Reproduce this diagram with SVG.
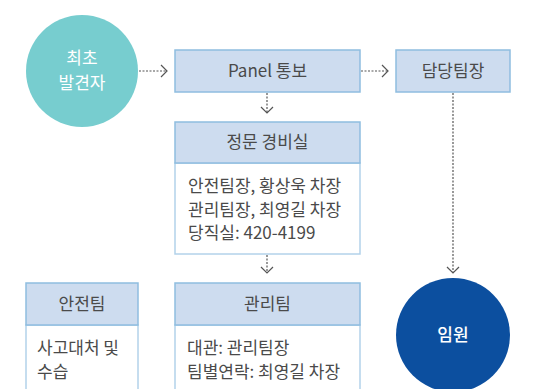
<svg xmlns="http://www.w3.org/2000/svg" width="546" height="389" viewBox="0 0 546 389">
<style>
text{font-family:"Noto Sans CJK KR","Noto Sans",sans-serif;font-size:17px;fill:#4a4a4a}
.c{text-anchor:middle}
.w{fill:#ffffff;font-size:17px}
.hd{fill:#cddcef;stroke:#8fbde0;stroke-width:1.5}
.bd{fill:#ffffff;stroke:#b3d2ea;stroke-width:1.5}
.ln{stroke:#555;stroke-width:1.2;stroke-dasharray:2 1.5;fill:none}
.ah{stroke:#555;stroke-width:1.2;fill:none}
</style>
<rect width="546" height="389" fill="#ffffff"/>
<g id="n-first">
<circle cx="82" cy="71" r="56" fill="#77cdcf"/>
<text class="c w" x="82" y="64">최초</text>
<text class="c w" x="82" y="89">발견자</text>
</g>
<g id="n-panel">
<rect class="hd" x="175" y="50" width="185" height="42"/>
<text class="c" x="267.5" y="77">Panel 통보</text>
</g>
<g id="n-manager">
<rect class="hd" x="396" y="50" width="114" height="42"/>
<text class="c" x="453" y="77">담당팀장</text>
</g>
<g id="n-gate">
<rect class="bd" x="175" y="163" width="185" height="91"/>
<rect class="hd" x="175" y="122" width="185" height="41"/>
<text class="c" x="267.5" y="148">정문 경비실</text>
<text x="188" y="192">안전팀장, 황상욱 차장</text>
<text x="188" y="216">관리팀장, 최영길 차장</text>
<text x="188" y="239">당직실: 420-4199</text>
</g>
<g id="n-safety">
<rect class="bd" x="26" y="325" width="112" height="70"/>
<rect class="hd" x="26" y="283" width="112" height="42"/>
<text class="c" x="82" y="310">안전팀</text>
<text x="37" y="354">사고대처 및</text>
<text x="37" y="378">수습</text>
</g>
<g id="n-admin">
<rect class="bd" x="175" y="325" width="185" height="70"/>
<rect class="hd" x="175" y="283" width="185" height="42"/>
<text class="c" x="267.5" y="310">관리팀</text>
<text x="187" y="354">대관: 관리팀장</text>
<text x="187" y="378">팀별연락: 최영길 차장</text>
</g>
<g id="n-exec">
<circle cx="453" cy="335" r="57" fill="#0c4f9f"/>
<text class="c w" x="453" y="341" font-weight="500">임원</text>
</g>
<g id="connectors">
<line class="ln" x1="139" y1="71" x2="166" y2="71"/>
<polyline class="ah" points="161,65 167,71 161,77"/>
<line class="ln" x1="361" y1="71" x2="387" y2="71"/>
<polyline class="ah" points="382,65 388,71 382,77"/>
<line class="ln" x1="267" y1="93" x2="267" y2="112"/>
<polyline class="ah" points="261,107 267,113 273,107"/>
<line class="ln" x1="267" y1="255" x2="267" y2="272"/>
<polyline class="ah" points="261,267 267,273 273,267"/>
<line class="ln" x1="453" y1="93" x2="453" y2="272"/>
<polyline class="ah" points="447,267 453,273 459,267"/>
</g>
</svg>
